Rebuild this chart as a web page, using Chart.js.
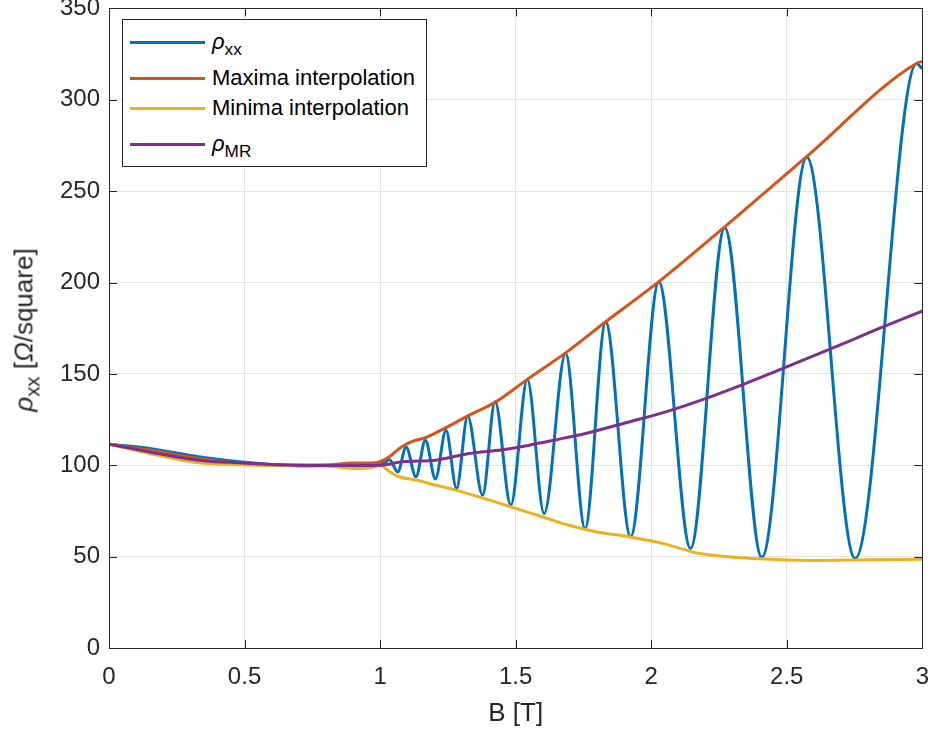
<!DOCTYPE html>
<html>
<head>
<meta charset="utf-8">
<script src="https://cdn.jsdelivr.net/npm/chart.js@4.4.0/dist/chart.umd.min.js"></script>
<style>
  body { margin: 0; background: #fff; }
  #wrap { position: relative; width: 932px; height: 735px; overflow: hidden; background: #fff;
          font-family: "Liberation Sans", Arial, Helvetica, sans-serif; color: #262626; }
  #holder { position: absolute; left: 0; top: -15px; }
  #legend { position: absolute; left: 122px; top: 19px; width: 303px; height: 146px;
            background: #fff; border: 1px solid #262626; }
  .row { position: absolute; left: 0; height: 36px; display: flex; align-items: center;
         font-size: 22px; color: #000; white-space: nowrap; }
  .swatch { width: 75px; height: 3px; margin-left: 7px; margin-right: 7px; }
  sub { font-size: 0.78em; vertical-align: -0.35em; line-height: 0; }
  #ytitle { position: absolute; left: 24px; top: 330px; transform: translate(-50%, -50%) rotate(-90deg);
            white-space: nowrap; font-size: 26px; color: #262626; }
</style>
</head>
<body>
<div id="wrap">
  <div id="holder"><canvas id="chart" width="944" height="750"></canvas></div>
  <div id="legend"></div>
  <div id="ytitle"><i>ρ</i><sub>xx</sub> [<i>Ω</i>/square]</div>
</div>
<script>
// rho_xx (extrema of the oscillations plus the low-field part)
const bXX = [0, 0.15, 0.33, 0.48, 0.6, 0.72, 0.85, 0.92, 1.0, 1.035, 1.065, 1.096, 1.132, 1.167, 1.204,
             1.243, 1.282, 1.323, 1.378, 1.424, 1.482, 1.543, 1.605, 1.684, 1.756, 1.832, 1.924,
             2.028, 2.145, 2.271, 2.408, 2.574, 2.752, 2.979, 3.0];
const rhoXX = [111.5, 109.2, 104.6, 101.9, 100.4, 99.7, 100.3, 100.6, 100.3, 103, 96.4, 110, 93.7, 113.7, 92.5,
               119.2, 87.3, 126.8, 83.7, 134.7, 78.2, 146.9, 73.6, 161.1, 65.4, 178.4, 60.9,
               200.3, 54.5, 230, 49.6, 268.6, 49.0, 319.7, 317];

// maxima interpolation
const bMax = [0, 0.15, 0.33, 0.5, 0.65, 0.8, 0.9, 0.96, 1.0, 1.034, 1.071, 1.114, 1.169, 1.23, 1.329,
              1.427, 1.543, 1.684, 1.832, 2.028, 2.271, 2.574, 2.979, 3.0];
const rhoMax = [111.5, 108.3, 103.7, 100.8, 100.1, 100.2, 101.3, 101.2, 101.9, 104.6, 109.2, 112.8, 115.2, 119.6, 127.4,
                134.7, 147, 161.5, 178.5, 200.5, 230.5, 269, 320, 321];

// minima interpolation
const bMin = [0, 0.15, 0.33, 0.5, 0.65, 0.8, 0.91, 0.97, 1.0, 1.035, 1.071, 1.132, 1.206, 1.28, 1.365,
              1.451, 1.5, 1.598, 1.7, 1.8, 1.918, 2.05, 2.175, 2.4, 2.6, 2.8, 3.0];
const rhoMin = [111.5, 106.4, 101.3, 100.2, 99.8, 99.6, 98.2, 98.8, 100, 96.5, 93.7, 91.9, 89.1, 86.4, 82.7,
                78.7, 76.4, 71.8, 67, 63.5, 60.9, 57, 51.8, 48.8, 47.9, 48.3, 48.5];

// rho_MR
const bMR = [0, 0.15, 0.33, 0.49, 0.65, 0.8, 0.96, 1.0, 1.083, 1.206, 1.329, 1.45, 1.55, 1.65, 1.758,
             1.918, 2.053, 2.2, 2.347, 2.47, 2.666, 2.825, 3.0];
const rhoMR = [111.5, 107.3, 102.8, 101.3, 100.2, 99.9, 99.9, 100, 101.9, 102.8, 106.4, 108.5, 111, 114, 117.4,
               123.7, 129.2, 136.5, 144.7, 152, 163.9, 173.9, 184.4];

const seriesNames = ['<i>ρ</i><sub>xx</sub>', 'Maxima interpolation', 'Minima interpolation', '<i>ρ</i><sub>MR</sub>'];
const seriesColors = ['#0072BD', '#D95319', '#EDB120', '#7E2F8E'];

const xTitle = 'B [T]';

// legend row centres inside the box
const legendRowY = [22, 58, 88, 124];

function toPoints(xs, ys) {
  return xs.map((x, i) => ({ x: x, y: ys[i] }));
}

// MATLAB style box with inward ticks on all four sides
const boxPlugin = {
  id: 'box',
  afterDatasetsDraw(chart) {
    const ctx = chart.ctx;
    const a = chart.chartArea;
    const sx = chart.scales.x, sy = chart.scales.y;
    const len = 8;
    ctx.save();
    ctx.strokeStyle = '#262626';
    ctx.lineWidth = 1;
    ctx.beginPath();
    sx.ticks.forEach(t => {
      const px = Math.round(sx.getPixelForValue(t.value)) + 0.5;
      ctx.moveTo(px, a.bottom); ctx.lineTo(px, a.bottom - len);
      ctx.moveTo(px, a.top); ctx.lineTo(px, a.top + len);
    });
    sy.ticks.forEach(t => {
      const py = Math.round(sy.getPixelForValue(t.value)) + 0.5;
      ctx.moveTo(a.left, py); ctx.lineTo(a.left + len, py);
      ctx.moveTo(a.right, py); ctx.lineTo(a.right - len, py);
    });
    ctx.stroke();
    ctx.strokeRect(Math.round(a.left) + 0.5, Math.round(a.top) + 0.5,
                   Math.round(a.right - a.left), Math.round(a.bottom - a.top));
    ctx.restore();
  }
};

Chart.defaults.font.family = '"Liberation Sans", Arial, Helvetica, sans-serif';
Chart.defaults.color = '#262626';

const chart = new Chart(document.getElementById('chart'), {
  type: 'line',
  data: {
    datasets: [
      { label: 'rho_xx', data: toPoints(bXX, rhoXX), borderColor: seriesColors[0], order: 4 },
      { label: 'Maxima interpolation', data: toPoints(bMax, rhoMax), borderColor: seriesColors[1], order: 3 },
      { label: 'Minima interpolation', data: toPoints(bMin, rhoMin), borderColor: seriesColors[2], order: 2 },
      { label: 'rho_MR', data: toPoints(bMR, rhoMR), borderColor: seriesColors[3], order: 1 },
    ],
  },
  options: {
    responsive: false,
    animation: false,
    elements: {
      point: { radius: 0 },
      line: { borderWidth: 3, cubicInterpolationMode: 'monotone', fill: false },
    },
    layout: { padding: { left: 0, right: 0, top: 0, bottom: 0 } },
    plugins: {
      legend: { display: false },
      tooltip: { enabled: false },
    },
    scales: {
      x: {
        type: 'linear',
        min: 0,
        max: 3,
        ticks: { stepSize: 0.5, padding: 15, font: { size: 24 }, callback: (v) => String(v) },
        grid: { color: '#e3e3e3', drawTicks: false },
        border: { display: false },
        title: { display: true, text: xTitle, font: { size: 26 }, padding: { top: 4, bottom: 6 } },
        afterFit: (s) => { s.height = 87; },
      },
      y: {
        min: 0,
        max: 350,
        ticks: { stepSize: 50, padding: 9, font: { size: 24 } },
        grid: { color: '#e3e3e3', drawTicks: false },
        border: { display: false },
        afterFit: (s) => { s.width = 109; },
      },
    },
  },
  plugins: [boxPlugin],
});

// legend with subscripts, built as html
const legend = document.getElementById('legend');
seriesNames.forEach((name, i) => {
  const row = document.createElement('div');
  row.className = 'row';
  row.style.top = (legendRowY[i] - 18) + 'px';
  row.innerHTML = '<span class="swatch" style="background:' + seriesColors[i] + '"></span><span>' + name + '</span>';
  legend.appendChild(row);
});
</script>
</body>
</html>
